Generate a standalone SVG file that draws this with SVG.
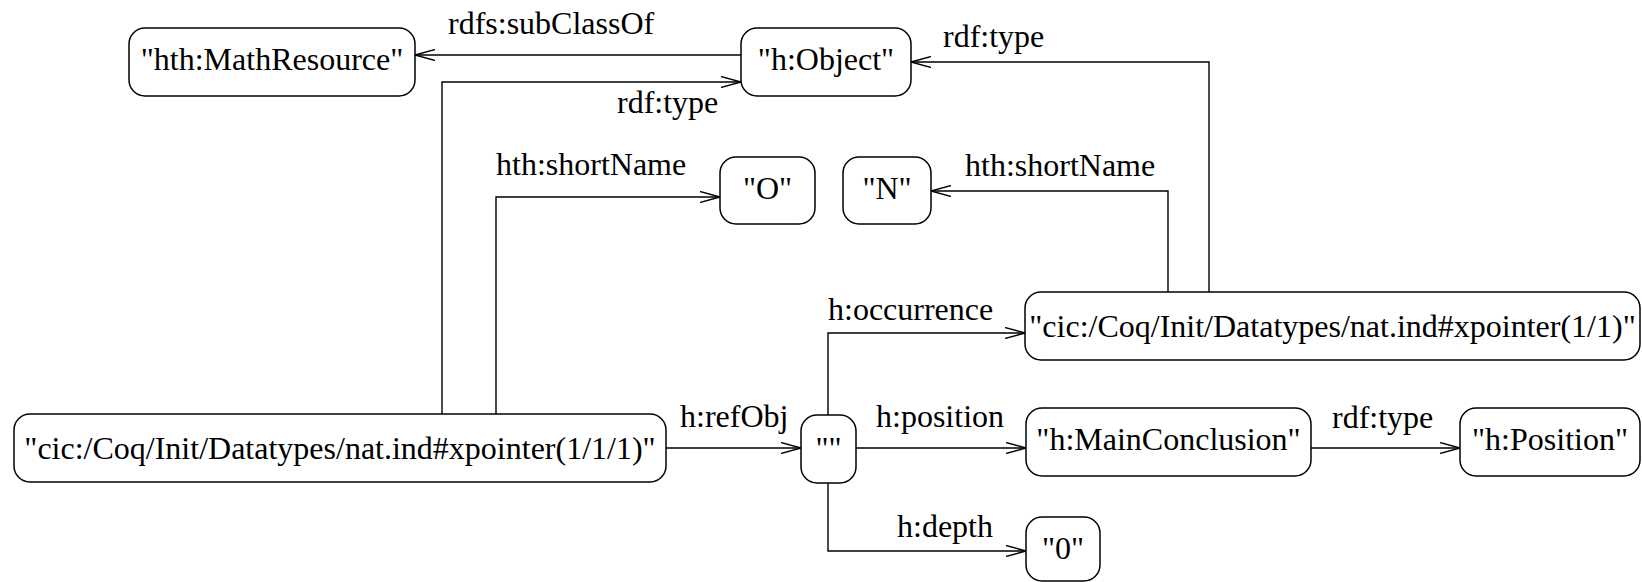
<svg xmlns="http://www.w3.org/2000/svg" width="1642" height="582" viewBox="0 0 1642 582">
<style>
.n rect{fill:#fff;stroke:#000;stroke-width:1.5}
text{font-family:"Liberation Serif","Times New Roman",serif;font-size:32px;fill:#000}
.n text{text-anchor:middle}
.e path{fill:none;stroke:#000;stroke-width:1.4;marker-end:url(#ah)}
</style>
<defs>
<marker id="ah" viewBox="0 0 20 12" refX="20" refY="6" markerWidth="20" markerHeight="12" markerUnits="userSpaceOnUse" orient="auto">
<path d="M0,0.5 L20,6 L0,11.5" fill="none" stroke="#000" stroke-width="1.4"/>
</marker>
</defs>
<g id="edges" class="e">
<path d="M741,55 H415"/>
<path d="M442,414 V82 H741"/>
<path d="M496,414 V197 H720"/>
<path d="M1209,292 V62 H911"/>
<path d="M1168,292 V191 H931"/>
<path d="M666,448 H801"/>
<path d="M828,415 V333 H1025"/>
<path d="M856,448 H1026"/>
<path d="M1311,448 H1460"/>
<path d="M828,483 V551 H1026"/>
</g>
<g id="edge-labels">
<text x="448" y="34">rdfs:subClassOf</text>
<text x="617" y="113">rdf:type</text>
<text x="943" y="47">rdf:type</text>
<text x="496" y="175">hth:shortName</text>
<text x="965" y="176">hth:shortName</text>
<text x="828" y="320">h:occurrence</text>
<text x="680" y="427">h:refObj</text>
<text x="876" y="427">h:position</text>
<text x="1332" y="428">rdf:type</text>
<text x="897" y="537">h:depth</text>
</g>
<g id="mathresource" class="n"><rect x="129" y="28" width="286" height="68" rx="16"/><text x="272" y="70">"hth:MathResource"</text></g>
<g id="hobject" class="n"><rect x="741" y="28" width="170" height="68" rx="16"/><text x="826" y="70">"h:Object"</text></g>
<g id="o" class="n"><rect x="720" y="157" width="95" height="67" rx="16"/><text x="767.5" y="199">"O"</text></g>
<g id="n" class="n"><rect x="843" y="157" width="88" height="67" rx="16"/><text x="887" y="199">"N"</text></g>
<g id="cic11" class="n"><rect x="1025" y="292" width="615" height="68" rx="16"/><text x="1332.5" y="337">"cic:/Coq/Init/Datatypes/nat.ind#xpointer(1/1)"</text></g>
<g id="cic111" class="n"><rect x="14" y="414" width="652" height="68" rx="16"/><text x="340" y="459">"cic:/Coq/Init/Datatypes/nat.ind#xpointer(1/1/1)"</text></g>
<g id="empty" class="n"><rect x="801" y="415" width="55" height="68" rx="16"/><text x="828.5" y="459">""</text></g>
<g id="mainconclusion" class="n"><rect x="1026" y="408" width="285" height="68" rx="16"/><text x="1168.5" y="450">"h:MainConclusion"</text></g>
<g id="position" class="n"><rect x="1460" y="408" width="180" height="68" rx="16"/><text x="1550" y="450">"h:Position"</text></g>
<g id="zero" class="n"><rect x="1026" y="517" width="74" height="64" rx="16"/><text x="1063" y="559">"0"</text></g>
</svg>
